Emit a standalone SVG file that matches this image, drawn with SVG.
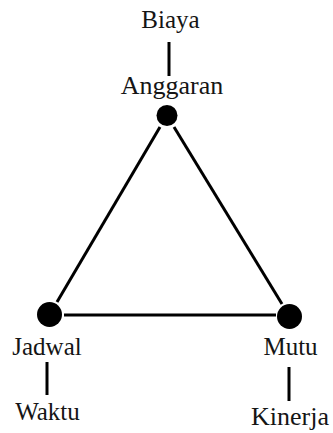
<svg xmlns="http://www.w3.org/2000/svg" width="333" height="433" viewBox="0 0 333 433">
<style>
text{font-family:'Liberation Serif','Times New Roman',serif;font-size:25px;fill:#151515;text-anchor:middle}
.l{stroke:#000;stroke-width:3;fill:none}
.d{fill:#000}
</style>
<rect width="333" height="433" fill="#fff"/>
<g id="connectors">
<line class="l" x1="160" y1="127" x2="57" y2="302"/>
<line class="l" x1="174" y1="127" x2="282" y2="304"/>
<line class="l" x1="64" y1="315" x2="276" y2="315"/>
<line class="l" x1="169" y1="42" x2="169" y2="76"/>
<line class="l" x1="47" y1="362" x2="47" y2="395"/>
<line class="l" x1="289" y1="367" x2="289" y2="401"/>
</g>
<g id="anggaran">
<circle class="d" cx="167" cy="115.5" r="10.5"/>
<text x="172" y="94" style="font-size:26px">Anggaran</text>
</g>
<g id="biaya"><text x="170.5" y="28">Biaya</text></g>
<g id="jadwal">
<circle class="d" cx="49.5" cy="314.5" r="12.5"/>
<text x="47" y="355">Jadwal</text>
</g>
<g id="waktu"><text x="47.5" y="420">Waktu</text></g>
<g id="mutu">
<circle class="d" cx="289.5" cy="316.5" r="12.5"/>
<text x="290.5" y="355">Mutu</text>
</g>
<g id="kinerja"><text x="290" y="425" style="font-size:26px">Kinerja</text></g>
</svg>
